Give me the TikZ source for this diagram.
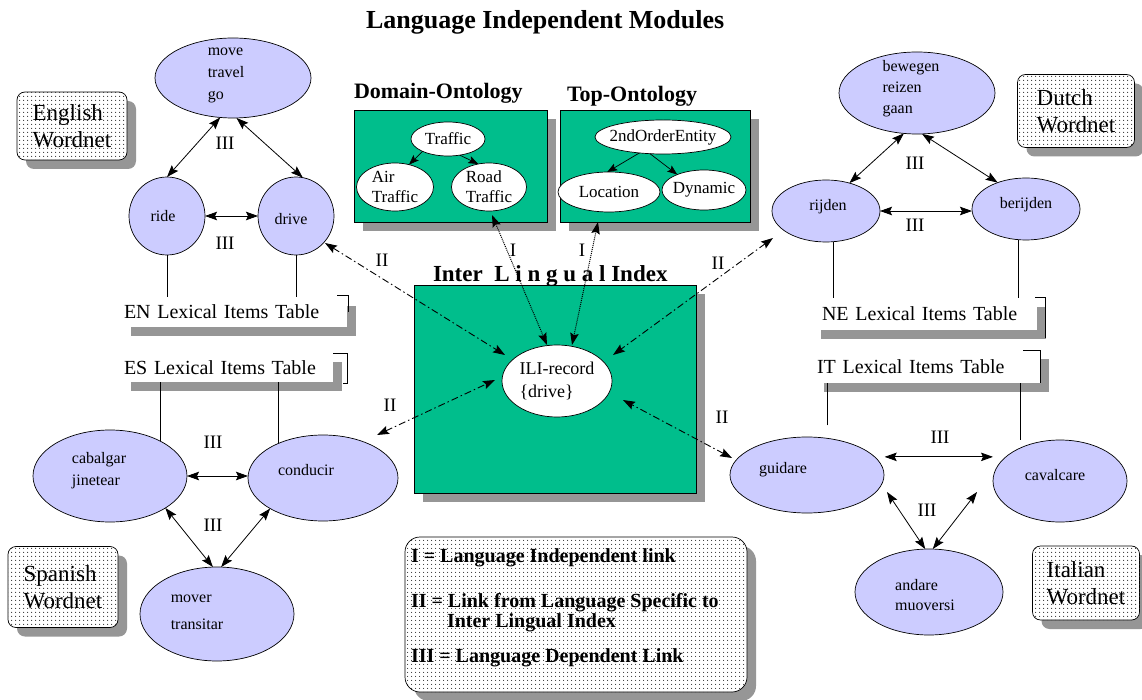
\documentclass[tikz,border=0pt]{standalone}
\usepackage{fontspec}
\setmainfont{Liberation Serif}
\usetikzlibrary{shapes.geometric,arrows.meta,patterns.meta,calc,shadows}
\definecolor{ilig}{RGB}{0,190,140}
\definecolor{lavc}{RGB}{204,204,255}
\definecolor{shd}{RGB}{150,150,150}
\begin{document}
\begin{tikzpicture}[x=1pt,y=-1pt,
  every node/.style={inner sep=0pt, outer sep=0pt},
  >={Stealth[length=12pt,width=8.5pt,inset=2pt]},
  shad/.style={drop shadow={shadow xshift=9pt,shadow yshift=-9pt,opacity=1,fill=shd}},
  ell/.style={ellipse, draw, line width=0.7pt},
  lavell/.style={ell, fill=lavc},
  whell/.style={ell, fill=white},
  lavtxt/.style={align=left, font=\fontsize{16}{22}\selectfont},
  ontxt/.style={align=left, font=\fontsize{17}{20}\selectfont},
  dotbox/.style={rectangle, rounded corners=8pt, draw, line width=0.7pt, fill=white, shad,
     postaction={pattern={Dots[distance=4pt,radius=0.65pt]}, pattern color=black!80},
     align=left, font=\fontsize{23}{27}\selectfont},
  greenbox/.style={rectangle, draw, line width=0.8pt, fill=ilig, shad},
  tabbox/.style={rectangle, fill=white, shad, align=left, font=\fontsize{20}{22}\selectfont},
  rel/.style={<->, line width=0.8pt},
  iiarr/.style={<->, line width=0.9pt, dash pattern=on 7pt off 3pt on 1.5pt off 3pt},
  iarr/.style={<->, line width=1pt, densely dotted},
  onarr/.style={-{Stealth[length=10pt,width=7.5pt,inset=2pt]}, line width=0.7pt},
  plain/.style={line width=0.8pt},
  lbl/.style={font=\fontsize{19}{20}\selectfont},
  ttl/.style={anchor=base west, font=\bfseries\fontsize{22}{24}\selectfont},
  legtxt/.style={anchor=base west, font=\bfseries\fontsize{20}{22}\selectfont},
]
\useasboundingbox (0,0) rectangle (1142,700);
\fill[white] (0,0) rectangle (1142,700);

% title
\node[ttl, font=\bfseries\fontsize{26}{28}\selectfont] (title) at (366,29) {Language Independent Modules};

% wordnet labels
\node[dotbox, minimum width=110, minimum height=68] (enwn) at (72,126) {English\\Wordnet};
\node[dotbox, minimum width=117, minimum height=73] (nlwn) at (1076,111) {Dutch\\Wordnet};
\node[dotbox, minimum width=110, minimum height=81] (eswn) at (63,587) {Spanish\\Wordnet};
\node[dotbox, minimum width=107, minimum height=74] (itwn) at (1086,583) {Italian\\Wordnet};

% green boxes
\node[greenbox, minimum width=193, minimum height=112] (dombox) at (450.5,166) {};
\node[greenbox, minimum width=190, minimum height=112] (topbox) at (655,166) {};
\node[greenbox, minimum width=282, minimum height=208] (ilibox) at (555,389) {};
\node[ttl] (domt) at (354,99) {Domain-Ontology};
\node[ttl] (topt) at (567,102) {Top-Ontology};
\node[ttl, font=\bfseries\fontsize{23}{25}\selectfont] (ilit) at (433,282) {Inter~~L i n g u a l Index};

% ontology ellipses
\node[whell, minimum width=74, minimum height=34, label={[ontxt]center:Traffic}] (traffic) at (448,139) {};
\node[whell, minimum width=77, minimum height=48, label={[ontxt]center:Air\\Traffic}] (air) at (395,187) {};
\node[whell, minimum width=75, minimum height=48, label={[ontxt]center:Road\\Traffic}] (road) at (489,187) {};
\node[whell, minimum width=136, minimum height=34, label={[ontxt]center:2ndOrderEntity}] (soe) at (663,137) {};
\node[whell, minimum width=102, minimum height=40, label={[ontxt]center:Location}] (loc) at (609,192) {};
\node[whell, minimum width=84, minimum height=40, label={[ontxt]center:Dynamic}] (dyn) at (704,190) {};
\node[whell, minimum width=110, minimum height=72, label={[ontxt, font=\fontsize{18}{23}\selectfont]center:ILI-record\\\{drive\}}] (ilirec) at (557,381) {};

% lexical items tables
\node[tabbox, minimum width=225, minimum height=30, text width=221, inner xsep=2pt] (entab) at (234.5,312) {EN Lexical Items Table};
\node[tabbox, minimum width=225, minimum height=32, text width=205, inner xsep=10pt] (netab) at (924.5,314) {NE Lexical Items Table};
\node[tabbox, minimum width=211, minimum height=29, text width=207, inner xsep=2pt] (estab) at (227.5,367.5) {ES Lexical Items Table};
\node[tabbox, minimum width=225, minimum height=33, text width=221, inner xsep=2pt] (ittab) at (927.5,366.5) {IT Lexical Items Table};
\draw[plain] ($(entab.north east)+(-10,-2)$) -- ($(entab.north east)+(1,-2)$) -- ($(entab.north east)+(1,15)$);
\draw[plain] ($(netab.north east)+(-2,-1)$) -- ($(netab.north east)+(8,-1)$) -- ($(netab.south east)+(8,8)$);
\draw[plain] ($(estab.north east)+(0,0)$) -- ($(estab.north east)+(14,0)$) -- ($(estab.south east)+(14,1)$) -- ($(estab.south east)+(10,1)$);
\draw[plain] ($(ittab.north east)+(-17,0)$) -- (ittab.north east) -- (ittab.south east);

% language ellipses
\node[lavell, minimum width=156, minimum height=80, label={[lavtxt, xshift=-7pt, yshift=3pt]center:move\\travel\\go}] (move) at (233,78) {};
\node[lavell, minimum width=76, minimum height=78, label={[lavtxt, xshift=-4pt]center:ride}] (ride) at (167,216) {};
\node[lavell, minimum width=76, minimum height=78, label={[lavtxt, xshift=-5pt, yshift=-3pt]center:drive}] (drive) at (296,216) {};

\node[lavell, minimum width=156, minimum height=82, label={[lavtxt, font=\fontsize{16}{21}\selectfont, xshift=-6pt, yshift=4pt]center:bewegen\\reizen\\gaan}] (bewegen) at (917,93) {};
\node[lavell, minimum width=108, minimum height=62, label={[lavtxt, xshift=2pt, yshift=4pt]center:rijden}] (rijden) at (826,211) {};
\node[lavell, minimum width=108, minimum height=62, label={[lavtxt, yshift=4pt]center:berijden}] (berijden) at (1026,209) {};

\node[lavell, minimum width=154, minimum height=92, label={[lavtxt, xshift=-11pt, yshift=5pt]center:cabalgar\\jinetear}] (cabalgar) at (110,476) {};
\node[lavell, minimum width=150, minimum height=86, label={[lavtxt, xshift=-17pt, yshift=8pt]center:conducir}] (conducir) at (323,478) {};
\node[lavell, minimum width=154, minimum height=94, label={[lavtxt, font=\fontsize{16}{27}\selectfont, xshift=-20pt, yshift=2pt]center:mover\\transitar}] (mover) at (217,614) {};

\node[lavell, minimum width=154, minimum height=76, label={[lavtxt, xshift=-24pt, yshift=5pt]center:guidare}] (guidare) at (807,475) {};
\node[lavell, minimum width=134, minimum height=82, label={[lavtxt, xshift=-5pt, yshift=6pt]center:cavalcare}] (cavalcare) at (1060,481) {};
\node[lavell, minimum width=148, minimum height=86, label={[lavtxt, font=\fontsize{16}{20}\selectfont, xshift=-4pt, yshift=-3pt]center:andare\\muoversi}] (andare) at (929,592) {};

% legend
\node[dotbox, rounded corners=15pt, minimum width=342, minimum height=155] (legend) at (576,614.5) {};
\node[legtxt] (leg1) at (411,562) {I = Language Independent link};
\node[legtxt] (leg2) at (411,607) {II = Link from Language Specific to};
\node[legtxt] (leg3) at (447,627) {Inter Lingual Index};
\node[legtxt] (leg4) at (411,662) {III = Language Dependent Link};

% ontology arrows
\draw[onarr] (traffic.-154) -- (air.58);
\draw[onarr] (traffic.-54) -- (road.115);
\draw[onarr] (soe.-146) -- (loc.95);
\draw[onarr] (soe.-128) -- (dyn.150);

% English relations
\draw[rel] (move.-108) -- (ride.90);
\draw[rel] (move.-85) -- (drive.80);
\draw[rel] (ride.east) -- (drive.west);
\draw[plain] (ride.south) -- (ride.south |- entab.north);
\draw[plain] (drive.south) -- (drive.south |- entab.north);

% Dutch relations
\draw[rel] (bewegen.-108) -- (rijden.50);
\draw[rel] (bewegen.-83) -- (berijden.137);
\draw[rel] (rijden.east) -- (rijden.east -| berijden.west);
\draw[plain] (rijden.-77) -- (rijden.-77 |- netab.north);
\draw[plain] (berijden.-104) -- (berijden.-104 |- netab.north);

% Spanish relations
\draw[rel] (cabalgar.east) -- (cabalgar.east -| conducir.west);
\draw[rel] (cabalgar.-30) -- (mover.95);
\draw[rel] (conducir.210) -- (mover.85);
\draw[plain] (cabalgar.35) -- (cabalgar.35 |- estab.south);
\draw[plain] (conducir.142) -- (conducir.142 |- estab.south);

% Italian relations
\draw[rel] ($(guidare.15)+(10,0)$) -- (guidare.15 -| cavalcare.west);
\draw[rel] ($(guidare.east)+(3,17)$) -- (andare.95);
\draw[rel] ($(cavalcare.west)+(-16,11)$) -- (andare.85);
\draw[plain] ($(guidare.61)+(0,-13)$) -- (guidare.61 |- ittab.south);
\draw[plain] ($(cavalcare.140)+(0,-8)$) -- (cavalcare.140 |- ittab.south);

% ILI links
\draw[iiarr] ($(drive.center)+(29,27)$) -- ($(ilirec.center)+(-52,-26)$);
\draw[iiarr] ($(rijden.center)+(-53,27)$) -- ($(ilirec.center)+(56,-26)$);
\draw[iiarr] ($(conducir.center)+(54,-43)$) -- ($(ilirec.center)+(-62,-1)$);
\draw[iiarr] ($(guidare.center)+(-75,-17)$) -- ($(ilirec.center)+(66,19)$);
\draw[iarr] ($(road.center)+(3,28)$) -- ($(ilirec.center)+(-10,-36)$);
\draw[iarr] ($(loc.center)+(-11,30)$) -- ($(ilirec.center)+(15,-36)$);

% link labels
\node[lbl] (t1) at (225,143) {III};
\node[lbl] (t2) at (225,243) {III};
\node[lbl] (t3) at (915,163) {III};
\node[lbl] (t4) at (915,225) {III};
\node[lbl] (t5) at (213,442) {III};
\node[lbl] (t6) at (213,525) {III};
\node[lbl] (t7) at (940,437) {III};
\node[lbl] (t8) at (927,510) {III};
\node[lbl] (u1) at (382,260) {II};
\node[lbl] (u2) at (718,263) {II};
\node[lbl] (u3) at (390,405) {II};
\node[lbl] (u4) at (722,417) {II};
\node[lbl] (v1) at (513,250) {I};
\node[lbl] (v2) at (582,250) {I};
\end{tikzpicture}
\end{document}
